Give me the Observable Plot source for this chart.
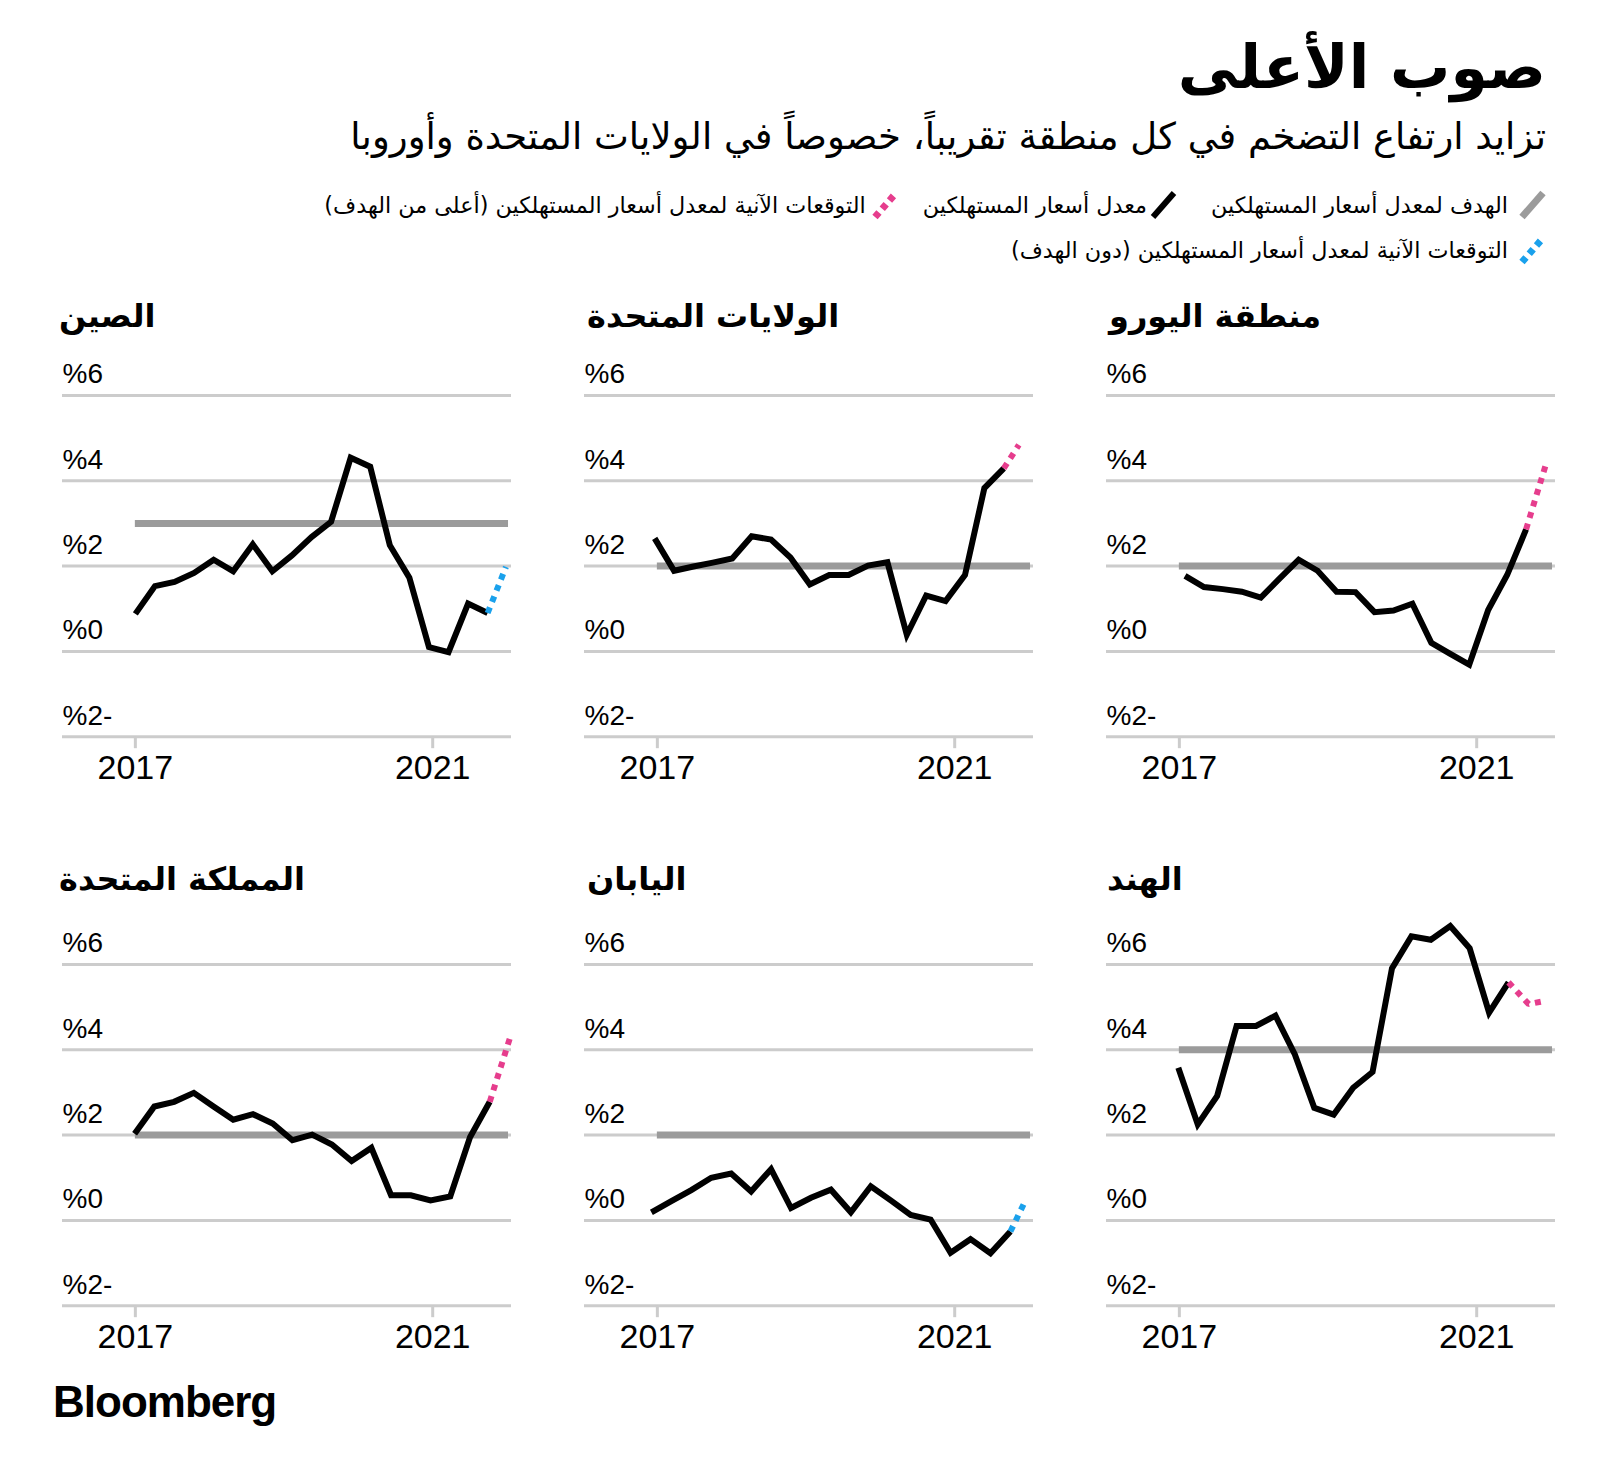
<!DOCTYPE html>
<html>
<head>
<meta charset="utf-8">
<script src="https://cdn.jsdelivr.net/npm/d3@7"></script>
<script src="https://cdn.jsdelivr.net/npm/@observablehq/plot@0.6"></script>
<style>
  body { margin: 0; background: #fff; }
  #page { position: relative; width: 1600px; height: 1478px; overflow: hidden; background: #fff; color: #000; }
  .ar { direction: rtl; font-family: "DejaVu Sans", sans-serif; white-space: nowrap; line-height: 1; position: absolute; }
  #title { right: 54px; top: 37px; font-size: 60px; font-weight: bold; }
  #subtitle { right: 54px; top: 118px; font-size: 37px; }
  .legend { right: 54px; display: flex; flex-direction: row; align-items: center; font-size: 22.3px; }
  .legend .item { display: flex; flex-direction: row; align-items: center; }
  .ptitle { font-size: 32px; font-weight: bold; }
  .panel { position: absolute; }
  #logo { position: absolute; left: 53px; top: 1380px; font-family: "Liberation Sans", Arial, sans-serif; font-weight: bold; font-size: 44px; letter-spacing: -1px; line-height: 1; }
</style>
</head>
<body>
<div id="page"></div>
<script>
// ---------------- data ----------------
const titleText = "صوب الأعلى";
const subtitleText = "تزايد ارتفاع التضخم في كل منطقة تقريباً، خصوصاً في الولايات المتحدة وأوروبا";
const legendLabels = [
  "الهدف لمعدل أسعار المستهلكين",
  "معدل أسعار المستهلكين",
  "التوقعات الآنية لمعدل أسعار المستهلكين (أعلى من الهدف)",
  "التوقعات الآنية لمعدل أسعار المستهلكين (دون الهدف)"
];
const countries = ["الصين", "الولايات المتحدة", "منطقة اليورو", "المملكة المتحدة", "اليابان", "الهند"];
const targets = [3, 2, 2, 2, 2, 4];

const chinaCPI = [0.88, 1.53, 1.63, 1.84, 2.15, 1.88, 2.51, 1.88, 2.25, 2.68, 3.04, 4.54, 4.33, 2.49, 1.73, 0.10, -0.02, 1.12, 0.90];
const usCPI    = [2.65, 1.89, 1.99, 2.08, 2.18, 2.70, 2.62, 2.20, 1.57, 1.79, 1.79, 2.01, 2.09, 0.39, 1.31, 1.18, 1.79, 3.83, 4.29];
const euroCPI  = [1.77, 1.51, 1.46, 1.40, 1.26, 1.71, 2.15, 1.89, 1.40, 1.39, 0.92, 0.96, 1.12, 0.20, -0.06, -0.31, 0.97, 1.79, 2.86];
const ukCPI    = [2.03, 2.67, 2.78, 2.99, 2.67, 2.36, 2.49, 2.27, 1.88, 2.01, 1.78, 1.39, 1.70, 0.59, 0.59, 0.47, 0.56, 1.95, 2.78];
const japanCPI = [0.19, 0.45, 0.71, 1.00, 1.10, 0.68, 1.20, 0.29, 0.53, 0.72, 0.19, 0.80, 0.47, 0.13, 0.02, -0.76, -0.44, -0.77, -0.26];
const indiaCPI = [3.58, 2.25, 2.92, 4.56, 4.56, 4.80, 3.89, 2.64, 2.48, 3.11, 3.48, 5.91, 6.66, 6.58, 6.90, 6.38, 4.87, 5.58];

// nowcasts (decimal year, value)
const chinaNow = [{t: 2021.985, v: 1.98}];
const usNow    = [{t: 2021.863, v: 4.84}];
const euroNow  = [{t: 2021.942, v: 4.45}];
const ukNow    = [{t: 2022.036, v: 4.26}];
const japanNow = [{t: 2021.959, v: 0.49}];
const indiaNow = [{t: 2021.70, v: 5.07}, {t: 2021.925, v: 5.15}];

// period timing of each series (first observation, spacing in years)
const seriesStart = [2017.00, 2016.964, 2017.076, 2016.99, 2016.92, 2016.986];
const seriesStep  = [0.2633, 0.2609, 0.2549, 0.2654, 0.2683, 0.2613];

const yTicks = [-2, 0, 2, 4, 6];
const yTickLabels = ["%2-", "%0", "%2", "%4", "%6"];
const xTicks = [2017, 2021];
const targetSpan = [2017, 2022.02];

const allCPI = [chinaCPI, usCPI, euroCPI, ukCPI, japanCPI, indiaCPI];
const allNow = [chinaNow, usNow, euroNow, ukNow, japanNow, indiaNow];

// ---------------- layout ----------------
const colLeft = [62, 584, 1106];
const titleLeft = [[59, 587, 1109], [59, 587, 1107]];
const rowGrid6 = [395.3, 964.3];
const rowTitleTop = [300, 863];
const M = {left: 2, right: 14, top: 50, bottom: 60};
const innerW = 449, innerH = 341.2;

const colors = {grid: "#cccccc", target: "#9b9b9b", line: "#000000", above: "#e63d8d", below: "#1aa1ec"};

const page = document.getElementById("page");

function addDiv(cls, id, text, style) {
  const d = document.createElement("div");
  if (cls) d.className = cls;
  if (id) d.id = id;
  if (text != null) d.textContent = text;
  Object.assign(d.style, style || {});
  page.appendChild(d);
  return d;
}

addDiv("ar", "title", titleText);
addDiv("ar", "subtitle", subtitleText);

function legendSymbol(color, dotted, width) {
  const ns = "http://www.w3.org/2000/svg";
  const svg = document.createElementNS(ns, "svg");
  svg.setAttribute("width", 28);
  svg.setAttribute("height", 30);
  const l = document.createElementNS(ns, "line");
  l.setAttribute("x1", 4); l.setAttribute("y1", 27);
  l.setAttribute("x2", 25); l.setAttribute("y2", 3);
  l.setAttribute("stroke", color);
  l.setAttribute("stroke-width", width);
  if (dotted) l.setAttribute("stroke-dasharray", "6,5");
  svg.appendChild(l);
  return svg;
}
function legendRow(top, items) {
  const row = addDiv("ar legend", null, null, {top: top + "px"});
  for (const it of items) {
    const s = document.createElement("span");
    s.className = "item";
    s.style.marginLeft = it.after + "px";
    const sym = legendSymbol(it.color, it.dotted, it.w);
    sym.style.marginLeft = it.inner + "px";
    s.appendChild(sym);
    const t = document.createElement("span");
    t.textContent = it.label;
    s.appendChild(t);
    row.appendChild(s);
  }
}
legendRow(190, [
  {label: legendLabels[0], color: colors.target, dotted: false, w: 7, inner: 10, after: 34},
  {label: legendLabels[1], color: colors.line, dotted: false, w: 6, inner: 2, after: 24},
  {label: legendLabels[2], color: colors.above, dotted: true, w: 7, inner: 5, after: 0}
]);
legendRow(235, [
  {label: legendLabels[3], color: colors.below, dotted: true, w: 7, inner: 10, after: 0}
]);

countries.forEach((name, i) => {
  const col = i % 3, row = Math.floor(i / 3);
  const vals = allCPI[i];
  const actual = vals.map((v, k) => ({t: seriesStart[i] + k * seriesStep[i], v}));
  const last = actual[actual.length - 1];
  const now = [last, ...allNow[i]];
  const nowColor = allNow[i][allNow[i].length - 1].v > targets[i] ? colors.above : colors.below;

  addDiv("ar ptitle", null, name, {left: titleLeft[row][col] + "px", top: rowTitleTop[row] + "px"});

  const chart = Plot.plot({
    width: M.left + innerW + M.right,
    height: M.top + innerH + M.bottom,
    marginLeft: M.left, marginRight: M.right, marginTop: M.top, marginBottom: M.bottom,
    x: {domain: [2016.02, 2022.06], axis: null},
    y: {domain: [-2, 6], axis: null},
    style: {background: "transparent", overflow: "visible"},
    marks: [
      Plot.ruleY(yTicks, {y: d => d, stroke: colors.grid, strokeWidth: 3}),
      Plot.ruleY([{y: targets[i], x1: targetSpan[0], x2: targetSpan[1]}], {y: "y", x1: "x1", x2: "x2", stroke: colors.target, strokeWidth: 7}),
      Plot.line(actual, {x: "t", y: "v", stroke: colors.line, strokeWidth: 6, strokeLinejoin: "miter", strokeLinecap: "butt", strokeMiterlimit: 4}),
      Plot.line(now, {x: "t", y: "v", stroke: nowColor, strokeWidth: 6, strokeDasharray: "6,6", strokeLinecap: "butt", strokeLinejoin: "miter"}),
      Plot.text(yTicks, {y: d => d, frameAnchor: "left", textAnchor: "start", lineAnchor: "middle", text: (d, j) => yTickLabels[j], fontSize: 28, dy: -21, fill: "#000", fontFamily: "Liberation Sans, Arial, sans-serif"}),
      Plot.axisX({ticks: xTicks, tickSize: 12, tickPadding: 6, stroke: colors.grid, strokeWidth: 3, fill: "#000", fontSize: 34, fontFamily: "Liberation Sans, Arial, sans-serif", tickFormat: d => String(d)})
    ]
  });
  const wrap = addDiv("panel", null, null, {left: (colLeft[col] - M.left) + "px", top: (rowGrid6[row] - M.top) + "px"});
  wrap.appendChild(chart);
});

addDiv(null, "logo", "Bloomberg");
</script>
</body>
</html>
